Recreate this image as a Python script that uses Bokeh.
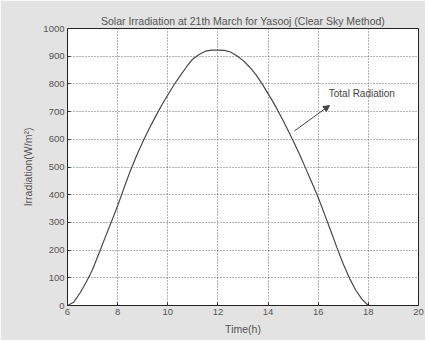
from bokeh.plotting import figure
from bokeh.models import Arrow, NormalHead, Label, Range1d, FixedTicker
from bokeh.embed import file_html
from bokeh.resources import INLINE

# Data
time_h = [6, 6.25, 6.5, 6.75, 7, 7.25, 7.5, 7.75, 8, 8.25, 8.5, 8.75, 9,
          9.25, 9.5, 9.75, 10, 10.25, 10.5, 10.75, 11, 11.25, 11.5, 11.75, 12,
          12.25, 12.5, 12.75, 13, 13.25, 13.5, 13.75, 14, 14.25, 14.5, 14.75, 15,
          15.25, 15.5, 15.75, 16, 16.25, 16.5, 16.75, 17, 17.25, 17.5, 17.75, 18]
radiation = [0, 12, 45, 85, 130, 187, 245, 302, 360, 423, 485, 540, 590,
             637, 680, 722, 760, 797, 830, 862, 890, 906, 918, 922, 922,
             921, 915, 902, 885, 862, 835, 802, 765, 727, 685, 641, 595,
             547, 495, 443, 390, 330, 270, 208, 150, 98, 55, 22, 0]
x_ticks = [6, 8, 10, 12, 14, 16, 18, 20]
y_ticks = [0, 100, 200, 300, 400, 500, 600, 700, 800, 900, 1000]

FONT = "Liberation Sans"
TXT = "#555555"

p = figure(width=425, height=340, output_backend="svg", toolbar_location=None,
           x_range=Range1d(6, 20), y_range=Range1d(0, 1000),
           min_border_left=67, min_border_right=7, min_border_top=28,
           min_border_bottom=35)
p.background_fill_color = "white"
p.border_fill_color = "#e3e3e3"
p.outline_line_color = "#222222"
p.outline_line_width = 1

p.title.text = "Solar Irradiation at 21th March for Yasooj (Clear Sky Method)"
p.title.align = "center"
p.title.text_font = FONT
p.title.text_font_size = "10.5px"
p.title.text_font_style = "normal"
p.title.text_color = TXT
p.title.standoff = 3

p.line(time_h, radiation, line_color="#484848", line_width=1.2)

for ax in (p.xaxis[0], p.yaxis[0]):
    ax.major_label_text_font = FONT
    ax.major_label_text_font_size = "9.5px"
    ax.major_label_text_color = TXT
    ax.axis_label_text_font = FONT
    ax.axis_label_text_font_size = "10.5px"
    ax.axis_label_text_font_style = "normal"
    ax.axis_label_text_color = TXT
    ax.axis_line_color = None
    ax.major_tick_in = 3
    ax.major_tick_out = 0
    ax.major_tick_line_color = "#333333"
    ax.minor_tick_line_color = None
    ax.major_label_standoff = 3

p.xaxis[0].ticker = FixedTicker(ticks=x_ticks)
p.yaxis[0].ticker = FixedTicker(ticks=y_ticks)
p.xaxis[0].axis_label = "Time(h)"
p.yaxis[0].axis_label = "Irradiation(W/m²)"
p.xaxis[0].axis_label_standoff = 5
p.yaxis[0].axis_label_standoff = 6

p.xgrid.ticker = FixedTicker(ticks=x_ticks)
p.ygrid.ticker = FixedTicker(ticks=y_ticks)
for g in (p.xgrid[0], p.ygrid[0]):
    g.grid_line_color = "#444444"
    g.grid_line_dash = "1 2"
    g.grid_line_alpha = 0.8
    g.grid_line_width = 1

arrow_tail = (15.05, 630)
arrow_head = (16.45, 722)
p.add_layout(Arrow(end=NormalHead(size=6, fill_color="#444444", line_color="#444444"),
                   x_start=arrow_tail[0], y_start=arrow_tail[1],
                   x_end=arrow_head[0], y_end=arrow_head[1],
                   line_color="#444444", line_width=1))
p.add_layout(Label(x=16.42, y=745, text="Total Radiation", text_font=FONT,
                   text_font_size="10px", text_color="#444444"))

open("out.html", "w").write(file_html(p, INLINE))
